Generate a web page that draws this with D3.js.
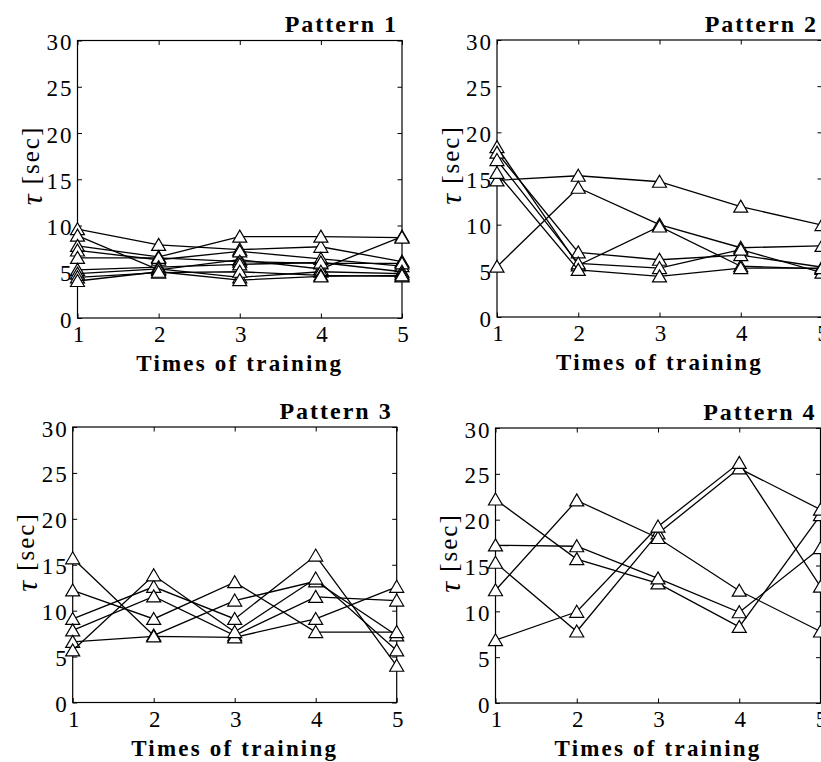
<!DOCTYPE html>
<html lang="en">
<head>
<meta charset="UTF-8">
<title>Times of training</title>
<script src="https://d3js.org/d3.v7.min.js"></script>
<style>
  body { margin: 0; background: #fff; }
</style>
</head>
<body>
<div id="chart"></div>
<script>
// data
const trials = [1, 2, 3, 4, 5];
const yTicks = [0, 5, 10, 15, 20, 25, 30];
const titles = ["Pattern 1", "Pattern 2", "Pattern 3", "Pattern 4"];

const pattern1 = [
  [9.6, 7.9, 7.4, 7.7, 6.1],
  [8.9, 5.2, 6.3, 5.3, 8.8],
  [7.8, 6.6, 8.8, 8.8, 8.7],
  [7.3, 6.3, 7.2, 6.4, 5.6],
  [6.5, 6.5, 6.1, 5.9, 5.9],
  [5.2, 5.5, 5.8, 6.0, 5.0],
  [4.8, 5.3, 4.4, 5.0, 4.8],
  [4.4, 4.9, 5.0, 4.6, 4.5],
  [4.0, 5.0, 4.1, 4.5, 4.6]
];
const pattern2 = [
  [14.8, 15.3, 14.65, 11.95, 9.96],
  [5.45, 14.0, 10.0, 7.5, 7.7],
  [18.4, 5.6, 9.8, 5.5, 5.2],
  [17.8, 7.0, 6.2, 6.7, 5.4],
  [17.0, 5.8, 5.3, 7.3, 4.8],
  [15.6, 5.1, 4.4, 5.3, 5.3]
];
const pattern3 = [
  [15.7, 7.3, 11.1, 13.2, 7.3],
  [12.2, 9.1, 13.1, 7.67, 7.67],
  [9.1, 12.6, 9.1, 16.0, 4.0],
  [7.85, 11.56, 7.3, 11.5, 11.1],
  [6.6, 7.2, 7.1, 9.1, 12.6],
  [5.67, 13.85, 7.67, 13.5, 5.67]
];
const pattern4 = [
  [22.2, 15.7, 13.05, 8.3, 20.5],
  [17.2, 17.1, 13.6, 9.9, 16.9],
  [15.3, 7.8, 18.5, 25.6, 21.1],
  [12.3, 22.1, 18.0, 12.25, 7.8],
  [6.85, 9.95, 19.25, 26.2, 12.7]
];
const patterns = [pattern1, pattern2, pattern3, pattern4];

// where each panel's plot box sits on the page
const boxes = [
  {left: 77.5, top: 40.5, width: 324.5, height: 277.5},
  {left: 497,  top: 40,   width: 325,   height: 277},
  {left: 72.7, top: 427,  width: 324,   height: 275.5},
  {left: 495.5, top: 428, width: 325,   height: 275}
];

const svg = d3.select("#chart").append("svg")
  .attr("width", 821)
  .attr("height", 762);

// triangle marker, centred on the point
const tri = "M0,-6.5L7,5.5L-7,5.5Z";

boxes.forEach((b, i) => {
  const g = svg.append("g").attr("transform", `translate(${b.left},${b.top})`);

  const x = d3.scaleLinear().domain([1, 5]).range([0, b.width]);
  const y = d3.scaleLinear().domain([0, 30]).range([b.height, 0]);

  // frame
  g.append("rect")
    .attr("width", b.width).attr("height", b.height)
    .attr("fill", "none").attr("stroke", "#000").attr("stroke-width", 1.2);

  // inward ticks on all four sides, matlab style
  const tl = 4.5;
  g.append("g")
    .attr("transform", `translate(0,${b.height})`)
    .call(d3.axisBottom(x).tickValues(trials).tickSize(-tl).tickFormat(""))
    .call(a => a.select(".domain").remove());
  g.append("g")
    .call(d3.axisTop(x).tickValues(trials).tickSize(-tl).tickFormat(""))
    .call(a => a.select(".domain").remove());
  g.append("g")
    .call(d3.axisLeft(y).tickValues(yTicks).tickSize(-tl).tickFormat(""))
    .call(a => a.select(".domain").remove());
  g.append("g")
    .attr("transform", `translate(${b.width},0)`)
    .call(d3.axisRight(y).tickValues(yTicks).tickSize(-tl).tickFormat(""))
    .call(a => a.select(".domain").remove());
  g.selectAll(".tick line").attr("stroke", "#000").attr("stroke-width", 1);

  // tick labels
  g.selectAll(".ylab")
    .data(yTicks)
    .join("text")
      .attr("x", -4)
      .attr("y", d => y(d) + 2)
      .attr("text-anchor", "end")
      .attr("dominant-baseline", "central")
      .attr("font-size", 23)
      .attr("letter-spacing", 2)
      .text(d => d);

  g.selectAll(".xlab")
    .data(trials)
    .join("text")
      .attr("x", d => x(d) + 1)
      .attr("y", b.height + 24)
      .attr("text-anchor", "middle")
      .attr("font-size", 23)
      .text(d => d);

  g.append("text")
    .attr("x", b.width / 2)
    .attr("y", b.height + 53)
    .attr("text-anchor", "middle")
    .attr("font-size", 23)
    .attr("font-weight", "bold")
    .attr("letter-spacing", 2.2)
    .text("Times of training");

  g.append("text")
    .attr("transform", `translate(-47,125) rotate(-90)`)
    .attr("text-anchor", "middle")
    .attr("dominant-baseline", "central")
    .attr("font-size", 25)
    .attr("letter-spacing", 2)
    .html('<tspan font-style="italic" font-size="30">τ</tspan> [sec]');

  g.append("text")
    .attr("x", b.width - 4)
    .attr("y", -8.5)
    .attr("text-anchor", "end")
    .attr("font-size", 24)
    .attr("font-weight", "bold")
    .attr("letter-spacing", 2)
    .text(titles[i]);

  // series
  const line = d3.line()
    .x((d, k) => x(trials[k]))
    .y(d => y(d));

  const series = g.selectAll(".series")
    .data(patterns[i])
    .join("g");

  series.append("path")
    .attr("d", d => line(d))
    .attr("fill", "none")
    .attr("stroke", "#000")
    .attr("stroke-width", 1.3);

  series.selectAll("path.mark")
    .data(d => d)
    .join("path")
      .attr("class", "mark")
      .attr("d", tri)
      .attr("transform", (d, k) => `translate(${x(trials[k])},${y(d)})`)
      .attr("fill", "#fff")
      .attr("stroke", "#000")
      .attr("stroke-width", 1.2);
});

svg.selectAll("text").style("font-family", '"Liberation Serif"');
</script>
</body>
</html>
